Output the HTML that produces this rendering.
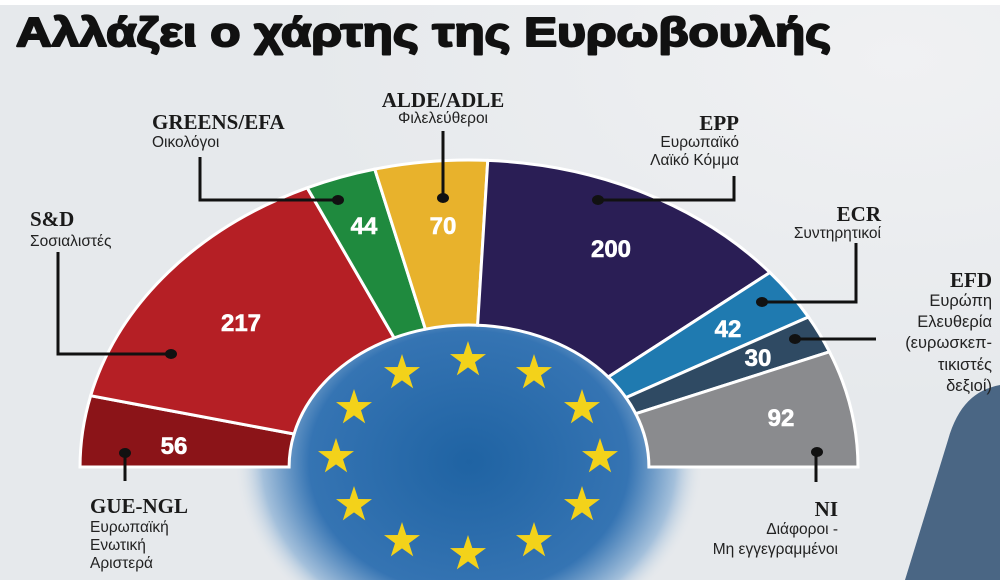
<!DOCTYPE html>
<html><head><meta charset="utf-8"><style>
html,body{margin:0;padding:0;background:#e6e9ec;width:1000px;height:580px;overflow:hidden;}
svg{display:block}
.n{font-family:"Liberation Serif","DejaVu Serif",serif;font-weight:bold;font-size:21px;fill:#1a1a1a}
.s{font-family:"Liberation Sans","DejaVu Sans",sans-serif;font-size:15.5px;fill:#222}
.v{font-family:"Liberation Sans",sans-serif;font-weight:bold;font-size:24px;fill:#fff;text-anchor:middle;stroke:#fff;stroke-width:0.6}
.ln{stroke:#111;stroke-width:3;fill:none}
</style></head><body>
<svg width="1000" height="580" viewBox="0 0 1000 580" xmlns="http://www.w3.org/2000/svg">
<defs>
<radialGradient id="bg" cx="0.9" cy="0.1" r="0.6"><stop offset="0" stop-color="#f0f1f3"/><stop offset="1" stop-color="#e6e9ec"/></radialGradient>
<radialGradient id="disc" cx="469" cy="462" r="235" gradientUnits="userSpaceOnUse" gradientTransform="translate(469 462) scale(1 0.82) translate(-469 -462)">
<stop offset="0" stop-color="#1f63a3"/><stop offset="0.68" stop-color="#3574b3"/><stop offset="0.88" stop-color="#a4c0db"/><stop offset="1" stop-color="#e6e9ec" stop-opacity="0"/></radialGradient>
<polygon id="st" fill="#f3d21a" points="0,-19 4.3,-6 18,-5.9 7,2.3 11.2,15.4 0,7.4 -11.2,15.4 -7,2.3 -18,-5.9 -4.3,-6"/>
</defs>
<rect width="1000" height="580" fill="url(#bg)"/>
<rect width="1000" height="5" fill="#fff"/>
<path d="M1000,385 C975,390 958,405 948,440 L905,580 L1000,580 Z" fill="#4a6684"/>
<path d="M234,580 L234,462 A235,193 0 0 1 704,462 L704,580 Z" fill="url(#disc)"/>
<text x="16" y="46" textLength="815" lengthAdjust="spacingAndGlyphs" style="font-family:'Liberation Sans',sans-serif;font-weight:bold;font-size:41px;fill:#111;stroke:#111;stroke-width:2;stroke-linejoin:round">Αλλάζει ο χάρτης της Ευρωβουλής</text>
<g transform="translate(469 467) scale(1.267 1)" stroke="#fff" stroke-width="3">
<path vector-effect="non-scaling-stroke" fill="#8b1418" d="M-307,0 A307,307 0 0 1 -298.6,-71.3 L-138.1,-33 A142,142 0 0 0 -142,0 Z"/>
<path vector-effect="non-scaling-stroke" fill="#b51f25" d="M-298.6,-71.3 A307,307 0 0 1 -127.7,-279.2 L-59.1,-129.1 A142,142 0 0 0 -138.1,-33 Z"/>
<path vector-effect="non-scaling-stroke" fill="#1f8a3e" d="M-127.7,-279.2 A307,307 0 0 1 -74.4,-297.9 L-34.4,-137.8 A142,142 0 0 0 -59.1,-129.1 Z"/>
<path vector-effect="non-scaling-stroke" fill="#e8b22c" d="M-74.4,-297.9 A307,307 0 0 1 14.8,-306.6 L6.8,-141.8 A142,142 0 0 0 -34.4,-137.8 Z"/>
<path vector-effect="non-scaling-stroke" fill="#2a1e55" d="M14.8,-306.6 A307,307 0 0 1 237.5,-194.5 L109.9,-90 A142,142 0 0 0 6.8,-141.8 Z"/>
<path vector-effect="non-scaling-stroke" fill="#1f7ab0" d="M237.5,-194.5 A307,307 0 0 1 267.9,-150 L123.9,-69.4 A142,142 0 0 0 109.9,-90 Z"/>
<path vector-effect="non-scaling-stroke" fill="#2f4a63" d="M267.9,-150 A307,307 0 0 1 284.5,-115.2 L131.6,-53.3 A142,142 0 0 0 123.9,-69.4 Z"/>
<path vector-effect="non-scaling-stroke" fill="#8a8b8e" d="M284.5,-115.2 A307,307 0 0 1 307,0 L142,0 A142,142 0 0 0 131.6,-53.3 Z"/>
</g>
<g>
<use href="#st" x="468" y="360"/><use href="#st" x="534" y="373"/><use href="#st" x="582" y="408"/><use href="#st" x="600" y="457"/><use href="#st" x="582" y="505"/><use href="#st" x="534" y="541"/><use href="#st" x="468" y="554"/><use href="#st" x="402" y="541"/><use href="#st" x="354" y="505"/><use href="#st" x="336" y="457"/><use href="#st" x="354" y="408"/><use href="#st" x="402" y="373"/>
</g>
<text class="v" x="241" y="331">217</text>
<text class="v" x="174" y="454">56</text>
<text class="v" x="364" y="234">44</text>
<text class="v" x="443" y="234">70</text>
<text class="v" x="611" y="257">200</text>
<text class="v" x="728" y="337">42</text>
<text class="v" x="758" y="366">30</text>
<text class="v" x="781" y="426">92</text>
<g class="ln">
<polyline points="58,252 58,354 170,354"/>
<polyline points="200,157 200,200 338,200"/>
<polyline points="443,131 443,198"/>
<polyline points="734,176 734,200 598,200"/>
<polyline points="856,243 856,302 762,302"/>
<polyline points="876,339 795,339"/>
<polyline points="816,452 816,482"/>
<polyline points="125,453 125,481"/>
</g>
<g fill="#111">
<ellipse cx="171" cy="354" rx="6" ry="5"/><ellipse cx="338" cy="200" rx="6" ry="5"/><ellipse cx="443" cy="198" rx="6" ry="5"/><ellipse cx="598" cy="200" rx="6" ry="5"/><ellipse cx="762" cy="302" rx="6" ry="5"/><ellipse cx="795" cy="339" rx="6" ry="5"/><ellipse cx="817" cy="452" rx="6" ry="5"/><ellipse cx="125" cy="453" rx="6" ry="5"/>
</g>
<text class="n" x="152" y="129">GREENS/EFA</text>
<text class="s" x="152" y="147">Οικολόγοι</text>
<text class="n" x="443" y="107" text-anchor="middle">ALDE/ADLE</text>
<text class="s" x="443" y="123" text-anchor="middle">Φιλελεύθεροι</text>
<g text-anchor="end">
<text class="n" x="739" y="130">EPP</text>
<text class="s" x="739" y="147">Ευρωπαϊκό</text>
<text class="s" x="739" y="165">Λαϊκό Κόμμα</text>
<text class="n" x="881" y="221">ECR</text>
<text class="s" x="881" y="238">Συντηρητικοί</text>
<text class="n" x="992" y="287">EFD</text>
<text class="s" x="992" y="306" style="font-size:16.5px">Ευρώπη</text>
<text class="s" x="992" y="327" style="font-size:16.5px">Ελευθερία</text>
<text class="s" x="992" y="348" style="font-size:16.5px">(ευρωσκεπ-</text>
<text class="s" x="992" y="370" style="font-size:16.5px">τικιστές</text>
<text class="s" x="992" y="391" style="font-size:16.5px">δεξιοί)</text>
<text class="n" x="838" y="516">NI</text>
<text class="s" x="838" y="534">Διάφοροι -</text>
<text class="s" x="838" y="554">Μη εγγεγραμμένοι</text>
</g>
<text class="n" x="30" y="226">S&amp;D</text>
<text class="s" x="30" y="246">Σοσιαλιστές</text>
<text class="n" x="90" y="513">GUE-NGL</text>
<text class="s" x="90" y="532">Ευρωπαϊκή</text>
<text class="s" x="90" y="550">Ενωτική</text>
<text class="s" x="90" y="568">Αριστερά</text>
</svg>
</body></html>
